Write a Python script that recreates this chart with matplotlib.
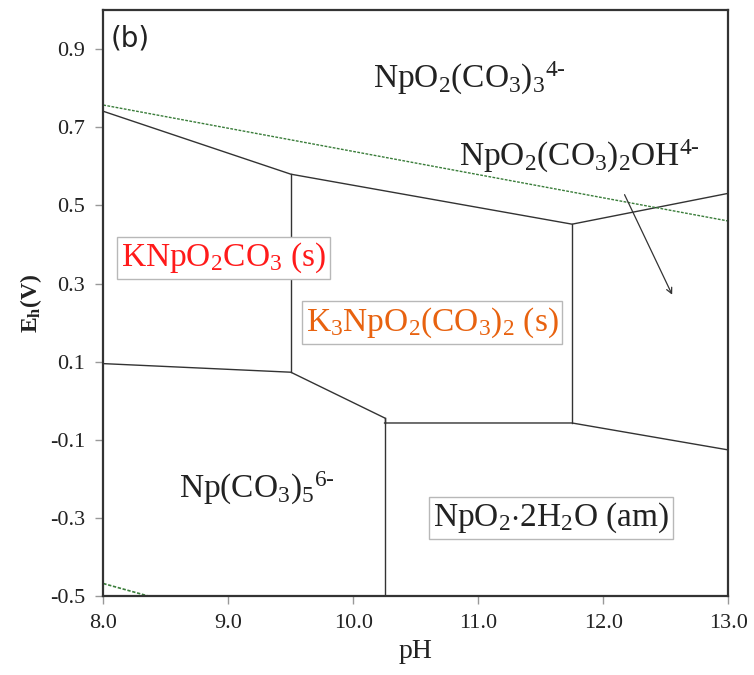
import matplotlib
matplotlib.use("Agg")
import matplotlib.pyplot as plt

plt.rcParams["font.family"] = "Liberation Serif"
plt.rcParams["mathtext.fontset"] = "custom"
plt.rcParams["mathtext.rm"] = "Liberation Serif"
plt.rcParams["mathtext.it"] = "Liberation Serif:italic"
plt.rcParams["mathtext.bf"] = "Liberation Serif:bold"

# phase boundaries (pH, Eh)
upper_ph = [8.0, 9.5, 11.75, 13.0]
upper_eh = [0.741, 0.580, 0.452, 0.531]
left_ph = [8.0, 9.5, 10.25]
left_eh = [0.095, 0.073, -0.044]
lower_ph = [10.25, 11.75, 13.0]
lower_eh = [-0.057, -0.057, -0.126]
v95_eh = [0.073, 0.580]
v1025_eh = [-0.5, -0.044]
v1175_eh = [-0.057, 0.452]

# water stability limits
o2_ph = [8.0, 13.0]
o2_eh = [0.757, 0.460]
h2_ph = [8.0, 8.36]
h2_eh = [-0.468, -0.5]

xticks = [8.0, 9.0, 10.0, 11.0, 12.0, 13.0]
yticks = [-0.5, -0.3, -0.1, 0.1, 0.3, 0.5, 0.7, 0.9]

fig = plt.figure(figsize=(7.54, 6.75), dpi=100)
ax = fig.add_axes([0.137, 0.117, 0.829, 0.868])

lc = "#333333"
ax.plot(upper_ph, upper_eh, color=lc, lw=1)
ax.plot(left_ph, left_eh, color=lc, lw=1)
ax.plot(lower_ph, lower_eh, color=lc, lw=1)
ax.plot([9.5, 9.5], v95_eh, color=lc, lw=1)
ax.plot([10.25, 10.25], v1025_eh, color=lc, lw=1)
ax.plot([10.25, 10.25], [-0.044, -0.057], color=lc, lw=1)
ax.plot([11.75, 11.75], v1175_eh, color=lc, lw=1)

gc = "#3a7d3a"
ax.plot(o2_ph, o2_eh, color=gc, lw=1, ls=(0, (2, 1)))
ax.plot(h2_ph, h2_eh, color=gc, lw=1.2, ls=(0, (2, 1)))

ax.annotate("", xy=(12.56, 0.265), xytext=(12.16, 0.534),
            arrowprops=dict(arrowstyle="->", color=lc, lw=0.9))

fs = 24
box = dict(boxstyle="square,pad=0.12", fc="white", ec="#b8b8b8", lw=1)
ax.text(10.93, 0.825, r"NpO$_2$(CO$_3$)$_3$$^{\text{4-}}$", fontsize=fs,
        ha="center", va="center", color="#222222")
ax.text(11.81, 0.625, r"NpO$_2$(CO$_3$)$_2$OH$^{\text{4-}}$", fontsize=fs,
        ha="center", va="center", color="#222222")
ax.text(8.96, 0.365, r"KNpO$_2$CO$_3$ (s)", fontsize=fs,
        ha="center", va="center", color="#ff1a1a", bbox=box)
ax.text(10.63, 0.2, r"K$_3$NpO$_2$(CO$_3$)$_2$ (s)", fontsize=fs,
        ha="center", va="center", color="#e8620f", bbox=box)
ax.text(9.23, -0.225, r"Np(CO$_3$)$_5$$^{\text{6-}}$", fontsize=fs,
        ha="center", va="center", color="#222222")
ax.text(11.58, -0.3, r"NpO$_2$$\cdot$2H$_2$O (am)", fontsize=fs,
        ha="center", va="center", color="#222222", bbox=box)

ax.text(0.012, 0.975, "(b)", transform=ax.transAxes, fontsize=20,
        family="DejaVu Sans", ha="left", va="top", color="#222222")

ax.set_xlim(8.0, 13.0)
ax.set_ylim(-0.5, 1.0)
ax.set_xticks(xticks)
ax.set_xticklabels([f"{t:.1f}" for t in xticks])
ax.set_yticks(yticks)
ax.set_yticklabels([f"{t:.1f}" for t in yticks])
ax.tick_params(direction="out", length=6, width=1, color="#999999",
               labelsize=16, labelcolor="#222222", pad=7)
for s in ax.spines.values():
    s.set_linewidth(1.6)
    s.set_color("#333333")

ax.set_xlabel("pH", fontsize=20, color="#222222", labelpad=4)
ax.set_ylabel(r"E$_\mathbf{h}$(V)", fontsize=17, fontweight="bold",
              color="#222222", labelpad=4)

fig.savefig("out.png", dpi=100)
